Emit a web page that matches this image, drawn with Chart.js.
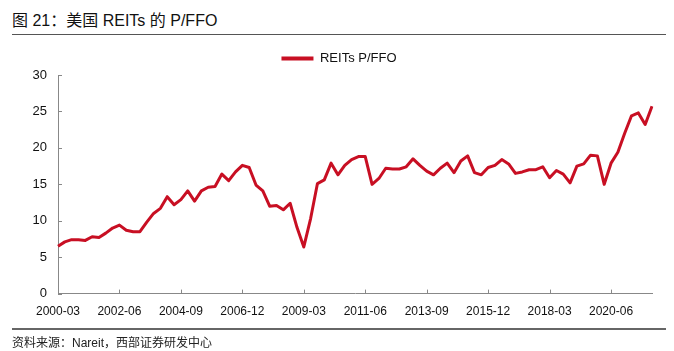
<!DOCTYPE html>
<html>
<head>
<meta charset="utf-8">
<script src="https://cdn.jsdelivr.net/npm/chart.js@4/dist/chart.umd.min.js"></script>
<style>
  body { margin: 0; background: #fff; font-family: "Liberation Sans", "Noto Sans CJK SC", sans-serif; }
  #page { position: relative; width: 674px; height: 351px; overflow: hidden; }
  #title { position: absolute; left: 12px; top: 7px; font-size: 16px; color: #111; }
  #topline { position: absolute; left: 12px; top: 34px; width: 654px; height: 1px; background: #555; }
  #chartbox { position: absolute; left: 0; top: 40px; width: 674px; height: 297px; }
  #botline { position: absolute; left: 12px; top: 328px; width: 654px; height: 2px; background: #666; }
  #source { position: absolute; left: 12px; top: 336px; font-size: 12px; line-height: 14px; color: #222; }
</style>
</head>
<body>
<div id="page">
  <div id="title">图 21：美国 REITs 的 P/FFO</div>
  <div id="topline"></div>
  <div id="chartbox"><canvas id="pffo-chart"></canvas></div>
  <div id="botline"></div>
  <div id="source">资料来源：Nareit，西部证券研发中心</div>
</div>
<script>
// Quarterly data, 2000-03 to 2021-12
const startYear = 2000;
const quarterMonths = ["03", "06", "09", "12"];
const seriesName = "REITs P/FFO";
const pffoValues = [
    6.5, 7.1, 7.4, 7.4, 7.3, 7.8, 7.7, 8.3, 9.0, 9.4,
    8.7, 8.5, 8.5, 9.8, 11.0, 11.7, 13.3, 12.2, 12.9, 14.1,
    12.7, 14.1, 14.6, 14.7, 16.4, 15.5, 16.7, 17.6, 17.3, 14.9,
    14.1, 12.0, 12.1, 11.5, 12.4, 9.1, 6.4, 10.3, 15.1, 15.6,
    17.9, 16.3, 17.6, 18.4, 18.8, 18.8, 15.0, 15.8, 17.2, 17.1,
    17.1, 17.4, 18.5, 17.6, 16.8, 16.3, 17.2, 17.9, 16.6, 18.2,
    18.9, 16.6, 16.3, 17.3, 17.6, 18.4, 17.8, 16.5, 16.7, 17.0,
    17.0, 17.4, 15.9, 16.9, 16.4, 15.2, 17.5, 17.8, 19.0, 18.9,
    15.0, 17.9, 19.4, 22.0, 24.4, 24.8, 23.2, 25.7
];
const yTicks = [0, 5, 10, 15, 20, 25, 30];
const labelEvery = 9;

const labels = pffoValues.map((v, i) =>
    (startYear + Math.floor(i / 4)) + "-" + quarterMonths[i % 4]);

const lineColor = "#C80F23";
const fontFamily = "'Liberation Sans', Arial, sans-serif";

// small tick marks drawn on the inside of the axes
const innerTicks = {
    id: "innerTicks",
    afterDraw(chart) {
        const ctx = chart.ctx;
        const x = chart.scales.x;
        const y = chart.scales.y;
        ctx.save();
        ctx.strokeStyle = "#888";
        ctx.lineWidth = 1;
        ctx.beginPath();
        labels.forEach((l, i) => {
            if (i % labelEvery === 0) {
                const px = Math.round(x.getPixelForValue(i)) + 0.5;
                ctx.moveTo(px, y.bottom);
                ctx.lineTo(px, y.bottom - 4);
            }
        });
        yTicks.forEach((t) => {
            const py = Math.round(y.getPixelForValue(t)) + 0.5;
            ctx.moveTo(x.left, py);
            ctx.lineTo(x.left + 4, py);
        });
        ctx.stroke();
        ctx.restore();
    },
};

const pffoChart = new Chart(document.getElementById("pffo-chart"), {
    type: "line",
    data: {
        labels: labels,
        datasets: [
            {
                label: seriesName,
                data: pffoValues,
                borderColor: lineColor,
                backgroundColor: lineColor,
                borderWidth: 3,
                pointRadius: 0,
                tension: 0,
                borderJoinStyle: "round",
            },
        ],
    },
    options: {
        responsive: true,
        maintainAspectRatio: false,
        animation: false,
        layout: {
            padding: { left: 26, right: 22, top: 2, bottom: 7 },
        },
        plugins: {
            legend: {
                position: "top",
                labels: {
                    boxWidth: 32,
                    boxHeight: 4,
                    padding: 10,
                    color: "#111",
                    font: { family: fontFamily, size: 13 },
                    generateLabels: function (chart) {
                        return Chart.defaults.plugins.legend.labels
                            .generateLabels(chart)
                            .map((item) => Object.assign(item, { lineWidth: 0 }));
                    },
                },
            },
            tooltip: { enabled: false },
        },
        scales: {
            x: {
                offset: false,
                grid: { display: false, drawTicks: false },
                border: { color: "#888", width: 1 },
                ticks: {
                    autoSkip: false,
                    maxRotation: 0,
                    padding: 11,
                    color: "#111",
                    font: { family: fontFamily, size: 12 },
                    callback: function (value, index) {
                        return index % labelEvery === 0 ? labels[index] : "";
                    },
                },
            },
            y: {
                min: 0,
                max: 30,
                afterFit: function (scale) {
                    scale.width = 32;
                },
                grid: { display: false, drawTicks: false },
                border: { color: "#888", width: 1 },
                ticks: {
                    stepSize: 5,
                    padding: 11,
                    color: "#111",
                    font: { family: fontFamily, size: 13 },
                },
            },
        },
    },
    plugins: [innerTicks],
});
</script>
</body>
</html>
